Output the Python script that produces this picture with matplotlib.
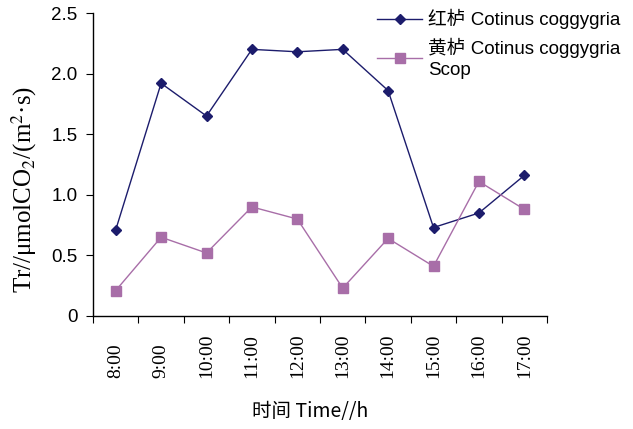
import numpy as np
import matplotlib
matplotlib.use("Agg")
import matplotlib.pyplot as plt

# data
times = ["8:00", "9:00", "10:00", "11:00", "12:00", "13:00", "14:00", "15:00", "16:00", "17:00"]
red_tr = [0.71, 1.92, 1.65, 2.20, 2.18, 2.20, 1.86, 0.73, 0.85, 1.16]
yellow_tr = [0.21, 0.65, 0.52, 0.90, 0.80, 0.23, 0.64, 0.41, 1.11, 0.88]
yticks = [0, 0.5, 1.0, 1.5, 2.0, 2.5]
ytick_labels = ["0", "0.5", "1.0", "1.5", "2.0", "2.5"]

plt.rcParams["mathtext.fontset"] = "stix"
cjk = ["Noto Sans CJK SC", "Liberation Sans"]
leg_font = ["Liberation Sans", "Noto Sans CJK SC"]

fig = plt.figure(figsize=(6.33, 4.29), dpi=100)
ax = fig.add_axes([93 / 633, 1 - 316 / 429, 454 / 633, 303 / 429])

x = np.arange(len(times))
ax.plot(x, red_tr, color="#1c1c6c", lw=1.0, marker="D", ms=5,
        label="红栌 Cotinus coggygria")
ax.plot(x, yellow_tr, color="#a86ea8", lw=1.0, marker="s", ms=7.5,
        label="黄栌 Cotinus coggygria\nScop")

ax.set_xlim(-0.5, len(times) - 0.5)
ax.set_ylim(0, 2.5)

# boundary ticks between categories, labels at centres
ax.set_xticks(np.arange(-0.5, len(times), 1.0))
ax.set_xticklabels([])
ax.set_xticks(x, minor=True)
ax.set_xticklabels(times, minor=True, rotation=90, family="Liberation Serif",
                   fontsize=14, va="bottom")
ax.tick_params(axis="x", which="major", direction="out", length=5, width=0.8)
ax.tick_params(axis="x", which="minor", length=0, pad=45)

ax.set_yticks(yticks)
ax.set_yticklabels(ytick_labels, family="Liberation Sans", fontsize=13.5)
ax.tick_params(axis="y", direction="out", length=5, width=0.8, pad=6)

for s in ["top", "right"]:
    ax.spines[s].set_visible(False)
for s in ["left", "bottom"]:
    ax.spines[s].set_linewidth(1.0)

fig.text(24 / 633, 1 - 189 / 429, r"Tr//μmolCO$_2$/(m$^2$·s)", rotation=90,
         family="Liberation Serif", fontsize=18, ha="center", va="center")
fig.text(310 / 633, 1 - 412 / 429, "时间 Time//h", family=cjk, fontsize=14,
         ha="center", va="center")

leg = ax.legend(loc="upper left", bbox_to_anchor=(364 / 633, 1 + 4 / 429),
                bbox_transform=fig.transFigure, frameon=False,
                prop={"family": leg_font, "size": 13.5}, handlelength=2.4,
                handletextpad=0.3, labelspacing=0.45, borderpad=0.2)
for t in leg.get_texts():
    t.set_linespacing(1.3)

fig.savefig("out.png", dpi=100)
